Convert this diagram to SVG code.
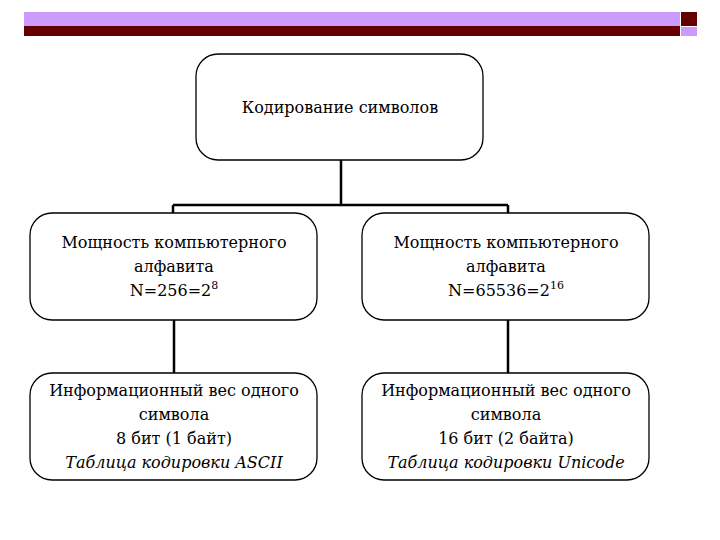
<svg xmlns="http://www.w3.org/2000/svg" width="720" height="540" viewBox="0 0 720 540">
<style>
.box{fill:#fff;stroke:#000;stroke-width:1.3}
.t{font-size:16px;text-anchor:middle;fill:#000}
.i{font-style:italic}
.c{stroke:#000;stroke-width:2.5;fill:none}
</style>
<rect width="720" height="540" fill="#fff"/>
<rect x="24" y="12" width="656" height="14" fill="#cc99ff"/>
<rect x="24" y="26" width="656" height="10" fill="#660000"/>
<rect x="681" y="12" width="16" height="14" fill="#660000"/>
<rect x="681" y="27" width="16" height="9" fill="#cc99ff"/>
<g id="connectors">
<path class="c" d="M341 160V205M173 205H508M173 205V213M508 205V213M174 320V373M508 320V373"/>
</g>
<g font-family="DejaVu Serif, Liberation Serif, serif">
<g id="root"><rect class="box" x="196" y="54" width="287" height="106" rx="22"/>
<text class="t" x="340" y="113" font-size="16.5">Кодирование символов</text></g>
<g id="n1"><rect class="box" x="30" y="213" width="287" height="107" rx="22"/>
<text class="t" x="174" y="248">Мощность компьютерного</text>
<text class="t" x="174" y="272">алфавита</text>
<text class="t" x="174" y="296">N=256=2<tspan font-size="11" dy="-7">8</tspan></text></g>
<g id="n2"><rect class="box" x="362" y="213" width="287" height="107" rx="22"/>
<text class="t" x="506" y="248">Мощность компьютерного</text>
<text class="t" x="506" y="272">алфавита</text>
<text class="t" x="506" y="296">N=65536=2<tspan font-size="11" dy="-7">16</tspan></text></g>
<g id="n3"><rect class="box" x="30" y="373" width="287" height="107" rx="22"/>
<text class="t" x="174" y="396">Информационный вес одного</text>
<text class="t" x="174" y="420">символа</text>
<text class="t" x="174" y="444">8 бит (1 байт)</text>
<text class="t i" x="174" y="468">Таблица кодировки ASCII</text></g>
<g id="n4"><rect class="box" x="362" y="373" width="287" height="107" rx="22"/>
<text class="t" x="506" y="396">Информационный вес одного</text>
<text class="t" x="506" y="420">символа</text>
<text class="t" x="506" y="444">16 бит (2 байта)</text>
<text class="t i" x="506" y="468">Таблица кодировки Unicode</text></g>
</g>
</svg>
